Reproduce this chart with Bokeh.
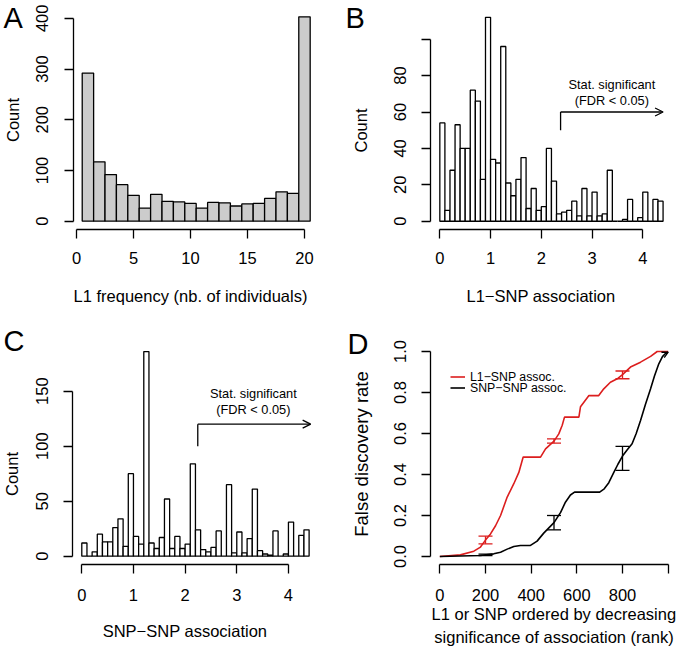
from bokeh.plotting import figure
from bokeh.layouts import gridplot
from bokeh.models import (Range1d, FixedTicker, Label, Arrow, OpenHead, Whisker, TeeHead,
                          ColumnDataSource, Legend, LegendItem, NumeralTickFormatter)
from bokeh.core.properties import value
from bokeh.embed import file_html
from bokeh.resources import INLINE

# ---------------- data ----------------
# Panel A: L1 frequency histogram (bins centred on 1..20)
a_freq = list(range(1, 21))
a_count = [292, 117, 92, 72, 51, 26, 53, 39, 38, 35, 26, 37, 36, 30, 34, 35, 45, 58, 55, 403]

# Panel B: L1-SNP association histogram (bin width 0.1, from 0 to 4.4)
bin_w = 0.1
b_count = [54, 6, 28, 53, 40, 40, 72, 66, 23, 112, 34, 32, 96, 21, 14, 23, 35, 7, 18, 6,
           8, 40, 22, 4, 5, 6, 11, 3, 18, 3, 16, 3, 4, 28, 0, 0, 1, 12, 0, 2,
           16, 0, 12, 11]
b_left = [round(i * bin_w, 1) for i in range(len(b_count))]

# Panel C: SNP-SNP association histogram
c_count = [12, 0, 4, 20, 13, 13, 26, 34, 9, 75, 18, 11, 186, 12, 7, 17, 52, 7, 18, 7,
           11, 84, 24, 6, 4, 8, 23, 0, 65, 3, 22, 3, 16, 61, 5, 2, 1, 23, 0, 2,
           31, 0, 19, 24]
c_left = [round(i * bin_w, 1) for i in range(len(c_count))]

# significance thresholds / annotation anchors
b_thresh, b_arrow_y0, b_arrow_y1, b_arrow_end = 2.38, 50, 60, 4.4
c_thresh, c_arrow_y0, c_arrow_y1, c_arrow_end = 2.245, 100, 120, 4.43
ann_text = ["Stat. significant", "(FDR < 0.05)"]
b_text_x, b_text_y = 3.39, [75.2, 66.6]
c_text_x, c_text_y = 3.32, [147.5, 133.2]

# Panel D: FDR curves
red_rank = [0, 90, 149, 178, 200, 222, 244, 266, 295, 324, 346, 365, 441, 463, 500, 521,
            536, 546, 609, 616, 653, 696, 718, 747, 777, 800, 835, 879, 923, 952, 1000]
red_fdr = [0, 0.008, 0.026, 0.046, 0.08, 0.11, 0.15, 0.2, 0.29, 0.355, 0.41, 0.485, 0.485,
           0.525, 0.563, 0.598, 0.64, 0.68, 0.68, 0.73, 0.785, 0.785, 0.818, 0.85, 0.867,
           0.887, 0.924, 0.948, 0.976, 1.0, 1.0]
black_rank = [0, 178, 236, 266, 295, 324, 353, 397, 426, 455, 500, 529, 550, 572, 590, 700,
              720, 740, 762, 780, 800, 820, 842, 860, 879, 900, 923, 940, 959, 975, 988, 1000]
black_fdr = [0, 0.005, 0.013, 0.021, 0.036, 0.049, 0.054, 0.054, 0.075, 0.114, 0.165, 0.215,
             0.265, 0.3, 0.314, 0.314, 0.33, 0.36, 0.41, 0.45, 0.49, 0.52, 0.55, 0.6, 0.663,
             0.74, 0.818, 0.88, 0.94, 0.975, 0.99, 0.997]
err_rank = [200, 500, 800]
red_lo = [0.062, 0.553, 0.867]
red_hi = [0.099, 0.574, 0.905]
black_lo = [0.004, 0.13, 0.42]
black_hi = [0.012, 0.20, 0.537]
legend_labels = ["L1\u2212SNP assoc.", "SNP\u2212SNP assoc."]

FONT = "Liberation Sans"
RED = "#dc1e1e"
LW = 1.3


def fig_ranges(W, H, box, usr):
    """Extend the R plot-region limits (usr) so the frame fills the whole figure."""
    l, r, t, b = box
    x0, x1, y0, y1 = usr
    sx = (x1 - x0) / (r - l)
    sy = (y1 - y0) / (b - t)
    return (x0 - l * sx, x1 + (W - r) * sx), (y0 - (H - b) * sy, y1 + t * sy)


def make_fig(W, H, box, usr):
    xr, yr = fig_ranges(W, H, box, usr)
    p = figure(width=W, height=H, x_range=Range1d(*xr), y_range=Range1d(*yr),
               output_backend="svg", toolbar_location=None, tools="",
               min_border_left=0, min_border_right=0, min_border_top=0, min_border_bottom=0)
    p.xgrid.visible = False
    p.ygrid.visible = False
    p.outline_line_color = None
    p.background_fill_color = "white"
    p.border_fill_color = "white"
    p.xaxis.fixed_location = usr[2]
    p.yaxis.fixed_location = usr[0]
    for ax in (p.xaxis[0], p.yaxis[0]):
        ax.axis_line_color = "black"
        ax.axis_line_width = LW
        ax.major_tick_line_color = "black"
        ax.major_tick_line_width = LW
        ax.major_tick_out = 9
        ax.major_tick_in = 0
        ax.minor_tick_line_color = None
        ax.major_label_text_color = "black"
        ax.major_label_text_font = FONT
        ax.major_label_text_font_size = "16.5px"
        ax.axis_label_text_color = "black"
        ax.axis_label_text_font = FONT
        ax.axis_label_text_font_style = "normal"
        ax.axis_label_text_font_size = "16.5px"
    p.xaxis.major_label_standoff = 14
    p.yaxis.major_label_standoff = 16
    p.yaxis.major_label_orientation = "vertical"
    return p


def letter(p, txt, xo, yc):
    p.add_layout(Label(x=p.x_range.start, y=p.y_range.end, x_offset=xo, y_offset=-yc, text=txt,
                       text_font=FONT, text_font_size="29px", text_color="black",
                       text_align="left", text_baseline="middle"))


def hist_panel(p, left, count, thresh, y0, y1, xend, tx, ty):
    p.quad(left=left, right=[l + bin_w for l in left], bottom=0, top=count,
           fill_color="white", line_color="black", line_width=LW)
    p.segment(x0=[thresh], y0=[y0], x1=[thresh], y1=[y1], line_color="black", line_width=LW)
    p.add_layout(Arrow(end=OpenHead(size=8, line_width=LW, line_color="black"),
                       x_start=thresh, y_start=y1, x_end=xend, y_end=y1,
                       line_width=LW, line_color="black"))
    p.text(x=[tx, tx], y=ty, text=ann_text, text_font=value(FONT),
           text_font_size=value("12.8px"), text_align="center", text_baseline="alphabetic",
           text_color="black")
    p.xaxis.ticker = FixedTicker(ticks=[0, 1, 2, 3, 4])
    p.xaxis.bounds = (0, 4)


# ---------------- Panel A ----------------
pA = make_fig(340, 315, (72.6, 318.8, 8.1, 228.9), (-0.3, 21.3, -16.12, 419.12))
pA.quad(left=[f - 0.5 for f in a_freq], right=[f + 0.5 for f in a_freq], bottom=0, top=a_count,
        fill_color="#cccccc", line_color="black", line_width=LW)
pA.xaxis.ticker = FixedTicker(ticks=[0, 5, 10, 15, 20])
pA.xaxis.bounds = (0, 20)
pA.yaxis.ticker = FixedTicker(ticks=[0, 100, 200, 300, 400])
pA.yaxis.bounds = (0, 400)
pA.xaxis.axis_label = "L1 frequency (nb. of individuals)"
pA.yaxis.axis_label = "Count"
pA.xaxis.axis_label_standoff = 19
pA.yaxis.axis_label_standoff = 12
letter(pA, "A", 3, 17.5)

# ---------------- Panel B ----------------
pB = make_fig(340, 315, (90.4, 331.5, 8.7, 228.9), (-0.176, 4.576, -4.48, 116.48))
hist_panel(pB, b_left, b_count, b_thresh, b_arrow_y0, b_arrow_y1, b_arrow_end, b_text_x, b_text_y)
pB.yaxis.ticker = FixedTicker(ticks=[0, 20, 40, 60, 80, 100])
pB.yaxis.major_label_overrides = {100: ""}
pB.yaxis.bounds = (0, 100)
pB.xaxis.axis_label = "L1\u2212SNP association"
pB.yaxis.axis_label = "Count"
pB.xaxis.axis_label_standoff = 19
pB.yaxis.axis_label_standoff = 21
letter(pB, "B", 5, 17)

# ---------------- Panel C ----------------
pC = make_fig(340, 331, (72.2, 317.7, 27.9, 248.9), (-0.176, 4.576, -7.44, 193.44))
hist_panel(pC, c_left, c_count, c_thresh, c_arrow_y0, c_arrow_y1, c_arrow_end, c_text_x, c_text_y)
pC.yaxis.ticker = FixedTicker(ticks=[0, 50, 100, 150])
pC.yaxis.bounds = (0, 150)
pC.xaxis.major_label_standoff = 16
pC.xaxis.axis_label = "SNP\u2212SNP association"
pC.yaxis.axis_label = "Count"
pC.xaxis.axis_label_standoff = 17
pC.yaxis.axis_label_standoff = 12
letter(pC, "C", 3, 25.5)

# ---------------- Panel D ----------------
pD = make_fig(340, 331, (90.2, 336.8, 27.8, 249.2), (-40, 1040, -0.04, 1.04))
r_red = pD.line(red_rank, red_fdr, line_color=RED, line_width=1.6)
r_black = pD.line(black_rank, black_fdr, line_color="black", line_width=1.6)
pD.add_layout(Arrow(end=OpenHead(size=6, line_width=LW, line_color="black"),
                    x_start=black_rank[-2], y_start=black_fdr[-2],
                    x_end=black_rank[-1], y_end=black_fdr[-1], line_width=1.6, line_color="black"))
src_r = ColumnDataSource(dict(x=err_rank, lo=red_lo, hi=red_hi))
src_b = ColumnDataSource(dict(x=err_rank, lo=black_lo, hi=black_hi))
pD.add_layout(Whisker(base="x", lower="lo", upper="hi", source=src_r, line_color=RED, line_width=LW,
                      upper_head=TeeHead(size=14, line_color=RED, line_width=LW),
                      lower_head=TeeHead(size=14, line_color=RED, line_width=LW)))
pD.add_layout(Whisker(base="x", lower="lo", upper="hi", source=src_b, line_color="black", line_width=LW,
                      upper_head=TeeHead(size=14, line_color="black", line_width=LW),
                      lower_head=TeeHead(size=14, line_color="black", line_width=LW)))
for lab, rend, ly in ((legend_labels[0], r_red, 261.8), (legend_labels[1], r_black, 250.8)):
    pD.add_layout(Legend(items=[LegendItem(label=lab, renderers=[rend])],
                         location=(110, ly), glyph_width=15, glyph_height=15, label_height=15,
                         label_standoff=5, spacing=0, padding=0, margin=0,
                         border_line_color=None, background_fill_alpha=0,
                         label_text_font=FONT, label_text_font_size="12.3px",
                         label_text_color="black"))
pD.xaxis.ticker = FixedTicker(ticks=[0, 200, 400, 600, 800, 1000])
pD.xaxis.major_label_overrides = {1000: ""}
pD.xaxis.bounds = (0, 1000)
pD.xaxis.major_label_standoff = 15
pD.yaxis.ticker = FixedTicker(ticks=[0, 0.2, 0.4, 0.6, 0.8, 1.0])
pD.yaxis.formatter = NumeralTickFormatter(format="0.0")
pD.yaxis.bounds = (0, 1)
pD.xaxis.axis_label = "L1 or SNP ordered by decreasing\nsignificance of association (rank)"
pD.xaxis.axis_label_text_line_height = 1.33
pD.xaxis.axis_label_standoff = 1
pD.yaxis.axis_label = "False discovery rate"
pD.yaxis.axis_label_standoff = 19
pD.yaxis.axis_label_text_font_size = "18.5px"
letter(pD, "D", 7, 28)

grid = gridplot([[pA, pB], [pC, pD]], toolbar_location=None)
open("out.html", "w").write(file_html(grid, INLINE))
